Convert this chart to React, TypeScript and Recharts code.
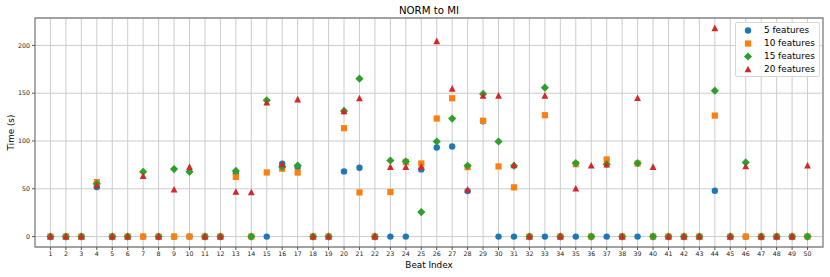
import React from 'react';
import {
  ScatterChart,
  Scatter,
  XAxis,
  YAxis,
  CartesianGrid,
  ReferenceArea,
  Label,
} from 'recharts';

const beats = [
  1, 2, 3, 4, 5, 6, 7, 8, 9, 10, 11, 12, 13, 14, 15, 16, 17, 18, 19, 20, 21, 22, 23, 24, 25,
  26, 27, 28, 29, 30, 31, 32, 33, 34, 35, 36, 37, 38, 39, 40, 41, 42, 43, 44, 45, 46, 47, 48, 49, 50,
];

const features5 = [
  0, 0, 0, 51.8, 0, 0, 0, 0, 0, 0, 0, 0, 66, 0, 0, 76.2, 72.7, 0, 0, 68.2, 72, 0, 0, 0, 70.3,
  93.2, 94.3, 47.6, 120.6, 0, 0, 0, 0, 0, 0, 0, 0, 0, 0, 0, 0, 0, 0, 48, 0, 0, 0, 0, 0, 0,
];

const features10 = [
  0, 0, 0, 57, 0, 0, 0, 0, 0, 0, 0, 0, 62.4, 0, 67.1, 71, 67, 0, 0, 113.4, 46.2, 0, 46.6, 78, 76.5,
  123.5, 144.7, 72.7, 121.2, 73.4, 51.5, 0, 127, 0, 75.8, 0, 80.7, 0, 76.5, 0, 0, 0, 0, 126.6, 0, 0, 0, 0, 0, 0,
];

const features15 = [
  0, 0, 0, 55.3, 0, 0, 67.8, 0, 70.6, 67.8, 0, 0, 68.7, 0, 142.6, 73, 74.4, 0, 0, 131.5, 165.2, 0, 79.6, 78.6, 25.7,
  99.5, 123.5, 74.1, 149.3, 99.5, 74.1, 0, 155.8, 0, 76.8, 0, 75.8, 0, 76.8, 0, 0, 0, 0, 152.7, 0, 77.6, 0, 0, 0, 0,
];

const features20 = [
  0, 0, 0, 53.5, 0, 0, 63.3, 0, 49, 72.7, 0, 0, 46.6, 46.2, 140, 75.5, 143.3, 0, 0, 130.8, 144.4, 0, 72.7, 72.7, 72.7,
  204.2, 154.5, 49, 147.2, 147.2, 74.4, 0, 147.2, 0, 50.1, 74.1, 75.1, 0, 144.7, 72.7, 0, 0, 0, 217.8, 0, 73.4, 0, 0, 0, 74.1,
];

const seriesNames = ['5 features', '10 features', '15 features', '20 features'];
const yTicks = [0, 50, 100, 150, 200];

const COLORS = ['#1f77b4', '#ff7f0e', '#2ca02c', '#d62728'];
const SHAPES = ['circle', 'square', 'diamond', 'triangle'];
const FONT = '"DejaVu Sans", sans-serif';

const allSeries = [features5, features10, features15, features20];
const seriesData = allSeries.map((vals) => beats.map((b, i) => ({ x: b, y: vals[i] })));

const maxVal = Math.max(...allSeries.flat());
const pad = maxVal * 0.05;
const Y_MIN = -pad;
const Y_MAX = maxVal + pad;
const X_MIN = 0;
const X_MAX = 51;

function Marker({ kind, cx, cy, color }: { kind: string; cx: number; cy: number; color: string }) {
  if (cx == null || cy == null) return null;
  if (kind === 'circle') return <circle cx={cx} cy={cy} r={3.2} fill={color} />;
  if (kind === 'square') return <rect x={cx - 3.1} y={cy - 3.1} width={6.2} height={6.2} fill={color} />;
  if (kind === 'diamond') {
    const d = 4.1;
    return <polygon points={`${cx},${cy - d} ${cx + d},${cy} ${cx},${cy + d} ${cx - d},${cy}`} fill={color} />;
  }
  const s = 3.4;
  return (
    <polygon
      points={`${cx},${cy - s - 0.4} ${cx + s},${cy + s - 0.6} ${cx - s},${cy + s - 0.6}`}
      fill={color}
    />
  );
}

function LegendBox() {
  return (
    <div
      style={{
        position: 'absolute',
        left: 735,
        top: 22,
        width: 85,
        height: 55,
        boxSizing: 'border-box',
        border: '1px solid #d6d6d6',
        borderRadius: 2,
        background: 'rgba(255,255,255,0.85)',
        fontFamily: FONT,
        fontSize: 8.9,
        color: '#000',
        paddingTop: 1,
      }}
    >
      {seriesNames.map((name, i) => (
        <div key={name} style={{ height: 13, position: 'relative' }}>
          <svg width={20} height={13} style={{ position: 'absolute', left: 3, top: 0 }}>
            <Marker kind={SHAPES[i]} cx={9} cy={6.5} color={COLORS[i]} />
          </svg>
          <span style={{ position: 'absolute', left: 28, top: 0, lineHeight: '13px', whiteSpace: 'nowrap' }}>
            {name}
          </span>
        </div>
      ))}
    </div>
  );
}

export default function App() {
  return (
    <div style={{ position: 'absolute', left: 0, top: 0, width: 830, height: 277, background: '#fff' }}>
      <ScatterChart width={830} height={277} margin={{ top: 18, right: 7, bottom: 0, left: 0 }}>
        <CartesianGrid stroke="#cccccc" strokeWidth={1} />
        <XAxis
          type="number"
          dataKey="x"
          domain={[X_MIN, X_MAX]}
          ticks={beats}
          interval={0}
          allowDataOverflow
          height={30}
          axisLine={false}
          tickSize={3}
          tickMargin={2}
          tickLine={{ stroke: '#555' }}
          tick={{ fontSize: 6.3, fill: '#222', fontFamily: FONT }}
        >
          <Label
            content={(props: any) => {
              const vb = props.viewBox || {};
              return (
                <text
                  x={vb.x + vb.width / 2}
                  y={vb.y + 18}
                  textAnchor="middle"
                  dominantBaseline="central"
                  fontSize={8.8}
                  fontFamily={FONT}
                  fill="#000"
                >
                  Beat Index
                </text>
              );
            }}
          />
        </XAxis>
        <YAxis
          type="number"
          dataKey="y"
          domain={[Y_MIN, Y_MAX]}
          ticks={yTicks}
          allowDataOverflow
          width={35}
          axisLine={false}
          tickSize={3}
          tickMargin={2}
          tickLine={{ stroke: '#555' }}
          tick={{ fontSize: 6.3, fill: '#222', fontFamily: FONT }}
        >
          <Label
            content={(props: any) => {
              const vb = props.viewBox || {};
              const cx = vb.x + 11;
              const cy = vb.y + vb.height / 2;
              return (
                <text
                  x={cx}
                  y={cy}
                  transform={`rotate(-90 ${cx} ${cy})`}
                  textAnchor="middle"
                  dominantBaseline="central"
                  fontSize={8.8}
                  fontFamily={FONT}
                  fill="#000"
                >
                  Time (s)
                </text>
              );
            }}
          />
        </YAxis>
        {seriesData.map((data, i) => (
          <Scatter
            key={seriesNames[i]}
            name={seriesNames[i]}
            data={data}
            fill={COLORS[i]}
            isAnimationActive={false}
            shape={(p: any) => <Marker kind={SHAPES[i]} cx={p.cx} cy={p.cy} color={COLORS[i]} />}
          />
        ))}
        <ReferenceArea
          x1={X_MIN}
          x2={X_MAX}
          y1={Y_MIN}
          y2={Y_MAX}
          fill="none"
          stroke="#8a8a8a"
          strokeWidth={1.3}
          ifOverflow="visible"
        >
          <Label value="NORM to MI" position="top" offset={4} fontSize={10.2} fontFamily={FONT} fill="#000" />
        </ReferenceArea>
      </ScatterChart>
      <LegendBox />
    </div>
  );
}
